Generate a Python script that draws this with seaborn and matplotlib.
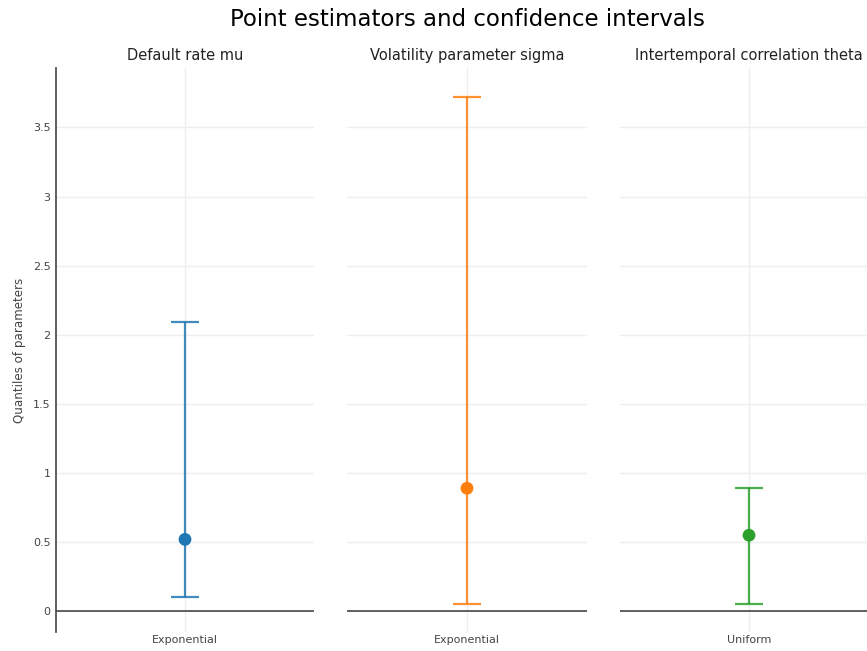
import matplotlib
matplotlib.use("Agg")
import matplotlib.pyplot as plt
import seaborn as sns
import pandas as pd

# Estimates and confidence bounds for each parameter
panel_titles = ["Default rate mu", "Volatility parameter sigma", "Intertemporal correlation theta"]
distributions = ["Exponential", "Exponential", "Uniform"]
point_estimates = [0.52, 0.89, 0.55]
lower_bounds = [0.10, 0.05, 0.05]
upper_bounds = [2.09, 3.72, 0.89]
colors = ["#1f77b4", "#ff7f0e", "#2ca02c"]
y_ticks = [0, 0.5, 1, 1.5, 2, 2.5, 3, 3.5]
y_tick_labels = ["0", "0.5", "1", "1.5", "2", "2.5", "3", "3.5"]

sns.set_theme(style="white")
plt.rcParams["font.family"] = ["DejaVu Sans"]

W, H = 867, 651
fig = plt.figure(figsize=(W / 100, H / 100), dpi=100)

panels = [(56, 258), (347, 240), (620, 258)]
top_px, bottom_px = 68, 632

for i, (left, width) in enumerate(panels):
    ax = fig.add_axes([left / W, (H - bottom_px) / H, width / W, (bottom_px - top_px) / H])
    df = pd.DataFrame({
        "dist": [distributions[i]],
        "est": [point_estimates[i]],
        "lo": [lower_bounds[i]],
        "hi": [upper_bounds[i]],
    })
    sns.scatterplot(data=df, x="dist", y="est", ax=ax, color=colors[i], s=85,
                    edgecolor="none", zorder=4, legend=False)
    ax.errorbar(x=[0], y=df["est"], yerr=[df["est"] - df["lo"], df["hi"] - df["est"]],
                fmt="none", ecolor=colors[i], alpha=0.85, elinewidth=1.6,
                capsize=10, capthick=1.6, zorder=3)
    ax.set_xlim(-0.5, 0.5)
    ax.set_ylim(-0.15, 3.93)
    ax.set_yticks(y_ticks)
    ax.grid(True, color="#eeeeee", linewidth=1)
    ax.axhline(0, color="#555555", linewidth=1.3, zorder=2)
    for side in ["top", "right", "bottom", "left"]:
        ax.spines[side].set_visible(False)
    ax.tick_params(axis="both", length=0, colors="#444444", labelsize=8)
    ax.set_xlabel("")
    ax.set_ylabel("")
    ax.set_title(panel_titles[i], fontsize=10.5, color="#222222", pad=6)
    if i == 0:
        ax.spines["left"].set_visible(True)
        ax.spines["left"].set_color("#444444")
        ax.spines["left"].set_linewidth(1.2)
        ax.set_yticklabels(y_tick_labels)
        ax.tick_params(axis="y", pad=4)
        ax.set_ylabel("Quantiles of parameters", fontsize=8.6, color="#444444", labelpad=5)
    else:
        ax.set_yticklabels([])
    ax.tick_params(axis="x", pad=2)

fig.text(467 / W, 1 - 20 / H, "Point estimators and confidence intervals",
         ha="center", va="center", fontsize=16.5, color="#000000")

fig.savefig("out.png", dpi=100)
